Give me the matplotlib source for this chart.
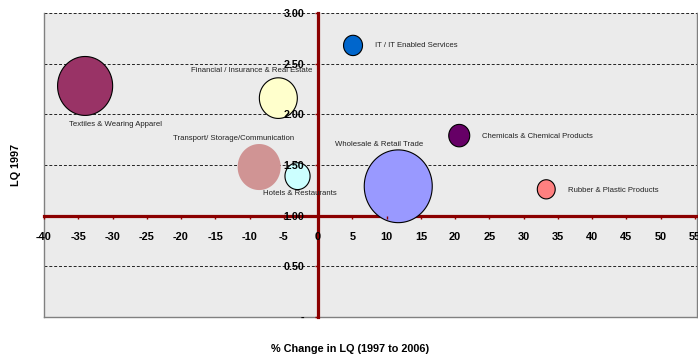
import numpy as np
import matplotlib
matplotlib.use("Agg")
import matplotlib.pyplot as plt
from matplotlib.path import Path
from matplotlib.ticker import FuncFormatter, MultipleLocator

plt.rcParams['font.family'] = ['Liberation Sans', 'DejaVu Sans']

# Sector bubbles: change in LQ (x), LQ in 1997 (y), relative size
sectors = ['Textiles & Wearing Apparel', 'Financial / Insurance & Real Estate',
           'Transport/ Storage/Communication', 'Hotels & Restaurants',
           'IT / IT Enabled Services', 'Chemicals & Chemical Products',
           'Wholesale & Retail Trade', 'Rubber & Plastic Products']
lq_change = [-34.0, -5.8, -8.6, -3.0, 5.1, 20.6, 11.7, 33.3]
lq_1997 = [2.28, 2.16, 1.48, 1.39, 2.68, 1.79, 1.29, 1.26]
bubble_size = [30.3, 14.4, 18.5, 6.3, 3.6, 4.4, 46.2, 3.2]

colors = ['#993366', '#FFFFCC', '#D09494', '#CCFFFF',
          '#0066CC', '#660066', '#9999FF', '#FF8080']
edges = ['black', 'black', 'none', 'black', 'black', 'black', 'black', 'black']
# label offsets in points from bubble centre
label_pos = [(21.6, -27.4, 'center'), (-19.4, 20.2, 'center'),
             (-18.4, 20.2, 'center'), (1.8, -12.2, 'center'),
             (15.8, 0.0, 'left'), (16.6, -0.7, 'left'),
             (-14.0, 30.2, 'center'), (15.8, -0.7, 'left')]

y_ticks = np.arange(0, 3.01, 0.5)

AXIS_RED = '#8B0000'
BUBBLE_SCALE = 59.4

fig = plt.figure(figsize=(6.98, 3.56), dpi=100)
ax = fig.add_axes([44 / 698, 1 - 317 / 356, 653 / 698, 304 / 356])
ax.set_facecolor('#EBEBEB')
ax.set_xlim(-40, 55.3)
ax.set_ylim(0, 3)

# slightly tall bubbles
t = np.linspace(0, 2 * np.pi, 120)
bubble = Path(np.column_stack([np.cos(t), 1.07 * np.sin(t)]), closed=True)

for y in y_ticks:
    if y in (0, 1.0):
        continue
    ax.axhline(y, color='#222222', lw=0.7, ls=(0, (3, 2)), zorder=1, clip_on=False)

# frame
for xs, ys in [([0, 0], [0, 1]), ([0, 1], [0, 0]), ([1, 1], [0, 1])]:
    ax.plot(xs, ys, color='#808080', lw=1, transform=ax.transAxes, clip_on=False, zorder=1)

for sp in ['top', 'right']:
    ax.spines[sp].set_visible(False)
ax.spines['bottom'].set_position(('data', 1.0))
ax.spines['left'].set_position(('data', 0))
for sp in ['bottom', 'left']:
    ax.spines[sp].set_color(AXIS_RED)
    ax.spines[sp].set_linewidth(2.3)
    ax.spines[sp].set_zorder(2)

ax.scatter(lq_change, lq_1997, s=[v * BUBBLE_SCALE for v in bubble_size],
           c=colors, edgecolors=edges, linewidths=0.8, marker=bubble, zorder=3)

for name, x, y, (dx, dy, ha) in zip(sectors, lq_change, lq_1997, label_pos):
    ax.annotate(name, (x, y), xytext=(dx, dy), textcoords='offset points',
                ha=ha, va='center', fontsize=5.6, color='#222222', zorder=5)

ax.xaxis.set_major_locator(MultipleLocator(5))
ax.yaxis.set_major_locator(MultipleLocator(0.5))
ax.xaxis.set_major_formatter(FuncFormatter(lambda v, p: f'{v:.0f}'))
ax.yaxis.set_major_formatter(FuncFormatter(lambda v, p: '-' if abs(v) < 1e-9 else f'{v:.2f}'))
ax.tick_params(axis='x', direction='out', length=2.2, width=1, color=AXIS_RED,
               pad=9.5, labelsize=7.9)
ax.tick_params(axis='y', direction='out', length=2.2, width=1, color=AXIS_RED,
               pad=7.5, labelsize=7.7)
for lbl in ax.get_xticklabels() + ax.get_yticklabels():
    lbl.set_fontweight('bold')
ax.xaxis.set_zorder(4)
ax.yaxis.set_zorder(4)

fig.text(350 / 698, 1 - 349 / 356, '% Change in LQ (1997 to 2006)',
         ha='center', va='center', fontsize=7.8, fontweight='bold')
fig.text(16 / 698, 1 - 165 / 356, 'LQ 1997', rotation=90,
         ha='center', va='center', fontsize=7.8, fontweight='bold')

fig.savefig('out.png', dpi=100)
